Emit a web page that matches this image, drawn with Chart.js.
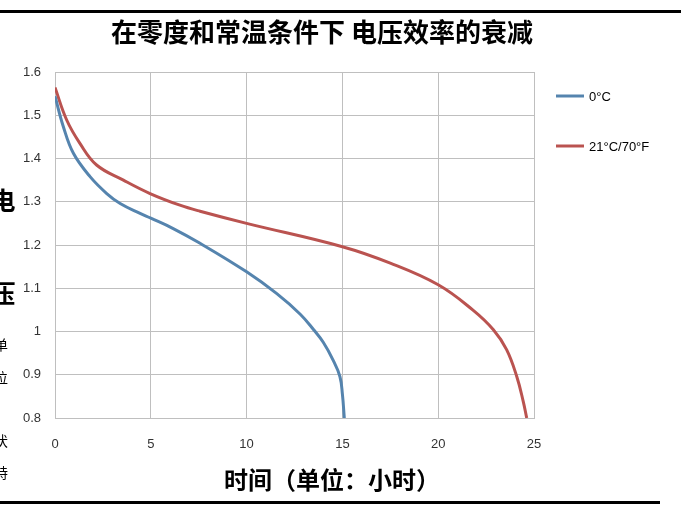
<!DOCTYPE html>
<html><head><meta charset="utf-8">
<script src="https://cdn.jsdelivr.net/npm/chart.js@4/dist/chart.umd.min.js"></script>
<style>html,body{margin:0;padding:0;background:#fff;}#wrap{width:681px;height:511px;position:relative;}</style>
</head><body><div id="wrap"><canvas id="c" width="681" height="511"></canvas></div>
<script>
const chartTitle = '在零度和常温条件下 电压效率的衰减';
const xAxisTitle = '时间（单位：小时）';
const yAxisTitleChars = ['电', '压', '单', '位', '伏', '特'];
const seriesNames = ['0°C', '21°C/70°F'];
const xTickLabels = ['0', '5', '10', '15', '20', '25'];
const yTickLabels = ['0.8', '0.9', '1', '1.1', '1.2', '1.3', '1.4', '1.5', '1.6'];
const coldHours = [0, 0.44, 0.96, 1.83, 2.7, 3.4, 4.44, 5.0, 6.17, 7.57, 10, 11.56, 12.8, 13.5, 14.0, 14.5, 14.87, 15.0, 15.1];
const coldVolts = [1.544, 1.473, 1.412, 1.358, 1.319, 1.296, 1.273, 1.262, 1.238, 1.204, 1.138, 1.088, 1.040, 1.004, 0.975, 0.935, 0.896, 0.855, 0.8];
const warmHours = [0, 0.61, 1.3, 2.17, 3.57, 4.96, 6.52, 7.57, 10, 15, 17.5, 20, 21.8, 22.88, 23.57, 24.1, 24.44, 24.62];
const warmVolts = [1.564, 1.489, 1.435, 1.385, 1.35, 1.319, 1.292, 1.278, 1.25, 1.196, 1.158, 1.108, 1.05, 1.004, 0.958, 0.896, 0.838, 0.8];

const colors = ['#5584AE', '#BA5350'];
const toPts = (xs, ys) => xs.map((x, i) => ({x: x, y: ys[i]}));

const decor = {
  id: 'decor',
  afterDraw(chart) {
    const ctx = chart.ctx;
    ctx.save();
    ctx.fillStyle = '#000';
    ctx.fillRect(0, 10, 681, 3);
    ctx.fillRect(0, 501, 660, 3);
    ctx.textAlign = 'center';
    ctx.textBaseline = 'middle';
    ctx.font = 'bold 26px "Noto Sans CJK SC"';
    ctx.fillText(chartTitle, 322, 32);
    ctx.font = 'bold 24px "Noto Sans CJK SC"';
    ctx.fillText(xAxisTitle, 332, 480);
    const yPos = [200, 293, 345, 378, 441, 473];
    yAxisTitleChars.forEach((ch, i) => {
      if (i < 2) { ctx.font = 'bold 25px "Noto Sans CJK SC"'; ctx.fillText(ch, 3, yPos[i]); }
      else { ctx.font = '14px "Noto Sans CJK SC"'; ctx.fillText(ch, 1, yPos[i]); }
    });
    ctx.textAlign = 'left';
    ctx.font = '13px "Liberation Sans"';
    const ly = [96, 146];
    chart.data.datasets.forEach((ds, i) => {
      ctx.strokeStyle = ds.borderColor;
      ctx.lineWidth = 3;
      ctx.beginPath();
      ctx.moveTo(556, ly[i]);
      ctx.lineTo(584, ly[i]);
      ctx.stroke();
      ctx.fillStyle = '#000';
      ctx.fillText(ds.label, 589, ly[i] + 1);
    });
    ctx.restore();
  }
};

new Chart(document.getElementById('c'), {
  type: 'scatter',
  data: {
    datasets: [
      {label: seriesNames[0], data: toPts(coldHours, coldVolts), showLine: true, borderColor: colors[0], backgroundColor: colors[0], borderWidth: 3, pointRadius: 0, tension: 0.4},
      {label: seriesNames[1], data: toPts(warmHours, warmVolts), showLine: true, borderColor: colors[1], backgroundColor: colors[1], borderWidth: 3, pointRadius: 0, tension: 0.4}
    ]
  },
  options: {
    responsive: false,
    animation: false,
    layout: {padding: {top: 72, right: 147, left: 0, bottom: 0}},
    plugins: {legend: {display: false}, title: {display: false}, tooltip: {enabled: false}},
    scales: {
      x: {
        type: 'linear', min: 0, max: 25,
        afterFit: s => { s.height = 93; },
        afterBuildTicks: s => { s.ticks = xTickLabels.map(v => ({value: Number(v)})); },
        ticks: {padding: 19, color: '#333', font: {family: 'Liberation Sans', size: 13}, callback: (v) => xTickLabels[xTickLabels.indexOf(String(v))] ?? ''},
        grid: {color: '#BFBFBF', lineWidth: 1, drawTicks: false},
        border: {color: '#BFBFBF'}
      },
      y: {
        type: 'linear', min: 0.8, max: 1.6,
        afterFit: s => { s.width = 55; },
        afterBuildTicks: s => { s.ticks = yTickLabels.map(v => ({value: Number(v)})); },
        ticks: {padding: 14, color: '#333', font: {family: 'Liberation Sans', size: 13}, callback: (v) => yTickLabels.find(t => Math.abs(Number(t) - v) < 1e-6) ?? ''},
        grid: {color: '#BFBFBF', lineWidth: 1, drawTicks: false},
        border: {color: '#BFBFBF'}
      }
    }
  },
  plugins: [decor]
});
</script></body></html>
